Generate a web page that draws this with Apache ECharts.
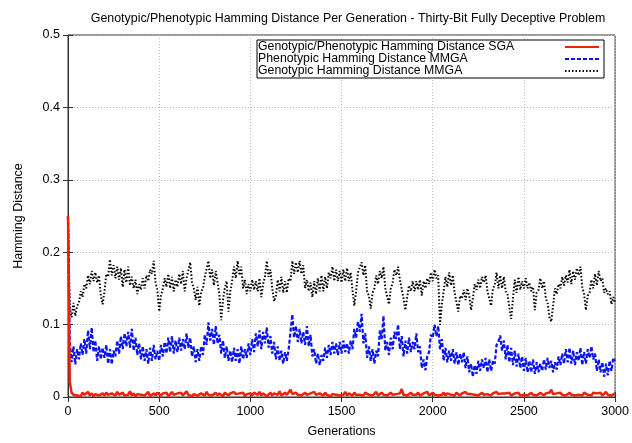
<!DOCTYPE html>
<html>
<head>
<meta charset="utf-8">
<title>Hamming Distance Per Generation</title>
<script src="https://cdn.jsdelivr.net/npm/echarts@6/dist/echarts.min.js"></script>
<style>
  html, body { margin: 0; padding: 0; background: #fff; }
  #main { width: 632px; height: 443px; }
</style>
</head>
<body>
<div id="main"></div>
<script>
// generations sampled every 10 steps (0 .. 3000)
var generations = []
for (var g = 0; g <= 3000; g += 10) generations.push(g)

var xTicks = [0, 500, 1000, 1500, 2000, 2500, 3000]
var yTicks = [0, 0.1, 0.2, 0.3, 0.4, 0.5]

// Genotypic/Phenotypic Hamming Distance SGA
var sgaDist = [
  0.250, 0.020, 0.006, 0.003, 0.005, 0.002, 0.004, 0.001, 0.006, 0.003,
  0.004, 0.007, 0.002, 0.005, 0.001, 0.004, 0.006, 0.002, 0.003, 0.005,
  0.002, 0.006, 0.003, 0.001, 0.005, 0.004, 0.002, 0.007, 0.003, 0.004,
  0.006, 0.002, 0.004, 0.003, 0.008, 0.002, 0.005, 0.001, 0.004, 0.006,
  0.003, 0.005, 0.002, 0.004, 0.007, 0.001, 0.003, 0.005, 0.002, 0.006,
  0.004, 0.002, 0.005, 0.003, 0.006, 0.001, 0.004, 0.007, 0.003, 0.002,
  0.005, 0.003, 0.006, 0.002, 0.004, 0.008, 0.003, 0.005, 0.001, 0.004,
  0.006, 0.002, 0.003, 0.005, 0.004, 0.002, 0.007, 0.003, 0.005, 0.002,
  0.004, 0.006, 0.002, 0.005, 0.003, 0.001, 0.006, 0.004, 0.002, 0.005,
  0.003, 0.007, 0.004, 0.002, 0.005, 0.003, 0.006, 0.001, 0.004, 0.003,
  0.005, 0.002, 0.006, 0.004, 0.003, 0.007, 0.002, 0.005, 0.004, 0.001,
  0.003, 0.006, 0.002, 0.005, 0.004, 0.003, 0.008, 0.002, 0.004, 0.006,
  0.003, 0.005, 0.010, 0.004, 0.002, 0.006, 0.003, 0.005, 0.002, 0.004,
  0.006, 0.003, 0.002, 0.005, 0.004, 0.007, 0.003, 0.002, 0.005, 0.004,
  0.002, 0.006, 0.003, 0.005, 0.001, 0.004, 0.006, 0.003, 0.005, 0.002,
  0.004, 0.003, 0.007, 0.002, 0.005, 0.004, 0.002, 0.006, 0.003, 0.005,
  0.003, 0.005, 0.002, 0.006, 0.004, 0.003, 0.005, 0.002, 0.004, 0.007,
  0.002, 0.004, 0.006, 0.003, 0.005, 0.002, 0.004, 0.006, 0.003, 0.005,
  0.004, 0.002, 0.005, 0.011, 0.003, 0.005, 0.002, 0.004, 0.006, 0.003,
  0.005, 0.003, 0.006, 0.002, 0.004, 0.005, 0.003, 0.007, 0.002, 0.004,
  0.006, 0.003, 0.005, 0.002, 0.004, 0.003, 0.006, 0.002, 0.005, 0.004,
  0.003, 0.005, 0.002, 0.006, 0.004, 0.002, 0.005, 0.003, 0.007, 0.004,
  0.002, 0.004, 0.006, 0.003, 0.005, 0.002, 0.004, 0.006, 0.003, 0.005,
  0.004, 0.006, 0.002, 0.005, 0.003, 0.007, 0.004, 0.002, 0.005, 0.003,
  0.005, 0.003, 0.006, 0.002, 0.004, 0.005, 0.003, 0.006, 0.002, 0.004,
  0.003, 0.005, 0.002, 0.004, 0.006, 0.003, 0.005, 0.002, 0.004, 0.006,
  0.004, 0.002, 0.005, 0.003, 0.006, 0.010, 0.004, 0.002, 0.005, 0.003,
  0.006, 0.003, 0.005, 0.002, 0.004, 0.006, 0.003, 0.005, 0.002, 0.004,
  0.003, 0.005, 0.002, 0.006, 0.004, 0.003, 0.005, 0.002, 0.006, 0.004,
  0.005, 0.003, 0.006, 0.002, 0.004, 0.007, 0.003, 0.005, 0.002, 0.004,
  0.005
]

// Phenotypic Hamming Distance MMGA
var mmgaPheno = [
  0.250, 0.075, 0.048, 0.070, 0.045, 0.066, 0.052, 0.074, 0.058, 0.080,
  0.060, 0.092, 0.066, 0.096, 0.062, 0.078, 0.050, 0.070, 0.052, 0.068,
  0.054, 0.072, 0.046, 0.066, 0.045, 0.064, 0.056, 0.078, 0.060, 0.084,
  0.066, 0.088, 0.070, 0.090, 0.068, 0.094, 0.064, 0.082, 0.058, 0.074,
  0.052, 0.070, 0.050, 0.066, 0.046, 0.068, 0.050, 0.072, 0.052, 0.064,
  0.050, 0.072, 0.056, 0.076, 0.060, 0.082, 0.062, 0.084, 0.060, 0.078,
  0.062, 0.082, 0.064, 0.080, 0.066, 0.088, 0.068, 0.082, 0.056, 0.070,
  0.048, 0.066, 0.050, 0.070, 0.058, 0.086, 0.072, 0.103, 0.078, 0.094,
  0.072, 0.098, 0.074, 0.086, 0.060, 0.078, 0.054, 0.070, 0.050, 0.064,
  0.048, 0.068, 0.050, 0.066, 0.046, 0.070, 0.052, 0.066, 0.054, 0.074,
  0.058, 0.080, 0.062, 0.088, 0.070, 0.092, 0.066, 0.090, 0.074, 0.096,
  0.068, 0.084, 0.060, 0.076, 0.052, 0.070, 0.050, 0.064, 0.046, 0.062,
  0.050, 0.066, 0.064, 0.114, 0.082, 0.098, 0.076, 0.094, 0.074, 0.090,
  0.072, 0.098, 0.070, 0.086, 0.056, 0.066, 0.046, 0.060, 0.044, 0.058,
  0.050, 0.068, 0.054, 0.072, 0.058, 0.076, 0.060, 0.074, 0.058, 0.076,
  0.060, 0.078, 0.062, 0.074, 0.060, 0.078, 0.066, 0.094, 0.082, 0.104,
  0.090, 0.115, 0.074, 0.088, 0.054, 0.070, 0.050, 0.066, 0.046, 0.064,
  0.056, 0.092, 0.080, 0.112, 0.064, 0.076, 0.058, 0.082, 0.066, 0.090,
  0.080, 0.100, 0.066, 0.084, 0.056, 0.078, 0.060, 0.082, 0.062, 0.076,
  0.066, 0.088, 0.062, 0.070, 0.040, 0.052, 0.037, 0.056, 0.062, 0.086,
  0.082, 0.100, 0.084, 0.098, 0.066, 0.080, 0.050, 0.068, 0.048, 0.064,
  0.050, 0.066, 0.046, 0.062, 0.044, 0.060, 0.048, 0.062, 0.040, 0.056,
  0.034, 0.046, 0.028, 0.044, 0.032, 0.050, 0.036, 0.052, 0.040, 0.054,
  0.034, 0.052, 0.036, 0.050, 0.046, 0.072, 0.076, 0.085, 0.064, 0.078,
  0.052, 0.072, 0.048, 0.068, 0.044, 0.064, 0.042, 0.060, 0.040, 0.056,
  0.036, 0.054, 0.034, 0.050, 0.034, 0.052, 0.032, 0.048, 0.034, 0.046,
  0.036, 0.052, 0.038, 0.054, 0.040, 0.050, 0.034, 0.048, 0.038, 0.056,
  0.044, 0.060, 0.046, 0.066, 0.048, 0.068, 0.046, 0.064, 0.044, 0.062,
  0.050, 0.068, 0.044, 0.062, 0.046, 0.066, 0.054, 0.070, 0.052, 0.060,
  0.036, 0.052, 0.034, 0.048, 0.028, 0.046, 0.030, 0.050, 0.036, 0.054,
  0.050
]

// Genotypic Hamming Distance MMGA
var mmgaGeno = [
  0.250, 0.122, 0.110, 0.130, 0.112, 0.126, 0.130, 0.146, 0.138, 0.156,
  0.150, 0.168, 0.156, 0.174, 0.160, 0.172, 0.158, 0.168, 0.140, 0.128,
  0.146, 0.170, 0.166, 0.190, 0.168, 0.182, 0.164, 0.180, 0.162, 0.178,
  0.152, 0.176, 0.158, 0.180, 0.154, 0.166, 0.150, 0.162, 0.142, 0.156,
  0.148, 0.164, 0.150, 0.168, 0.160, 0.176, 0.170, 0.188, 0.158, 0.148,
  0.118, 0.140, 0.150, 0.164, 0.152, 0.170, 0.150, 0.166, 0.146, 0.162,
  0.152, 0.170, 0.156, 0.174, 0.146, 0.164, 0.166, 0.186, 0.158, 0.150,
  0.134, 0.152, 0.126, 0.146, 0.150, 0.166, 0.164, 0.188, 0.164, 0.176,
  0.154, 0.174, 0.158, 0.142, 0.106, 0.134, 0.150, 0.160, 0.118, 0.146,
  0.160, 0.180, 0.164, 0.188, 0.168, 0.180, 0.150, 0.162, 0.142, 0.156,
  0.146, 0.162, 0.148, 0.160, 0.146, 0.164, 0.138, 0.156, 0.166, 0.188,
  0.166, 0.176, 0.150, 0.132, 0.140, 0.162, 0.146, 0.166, 0.144, 0.160,
  0.144, 0.164, 0.160, 0.188, 0.170, 0.186, 0.172, 0.188, 0.170, 0.182,
  0.150, 0.162, 0.146, 0.158, 0.138, 0.160, 0.142, 0.164, 0.146, 0.168,
  0.146, 0.166, 0.150, 0.172, 0.164, 0.180, 0.160, 0.176, 0.160, 0.174,
  0.158, 0.176, 0.160, 0.178, 0.160, 0.172, 0.148, 0.126, 0.146, 0.172,
  0.170, 0.186, 0.168, 0.182, 0.146, 0.140, 0.122, 0.144, 0.150, 0.168,
  0.156, 0.174, 0.164, 0.180, 0.150, 0.148, 0.128, 0.150, 0.158, 0.176,
  0.168, 0.180, 0.162, 0.160, 0.136, 0.120, 0.138, 0.154, 0.146, 0.160,
  0.146, 0.160, 0.148, 0.162, 0.140, 0.160, 0.150, 0.164, 0.156, 0.172,
  0.160, 0.176, 0.164, 0.168, 0.100, 0.128, 0.146, 0.166, 0.152, 0.172,
  0.154, 0.168, 0.144, 0.142, 0.118, 0.140, 0.136, 0.148, 0.134, 0.150,
  0.140, 0.120, 0.136, 0.156, 0.148, 0.162, 0.150, 0.166, 0.158, 0.168,
  0.146, 0.148, 0.126, 0.150, 0.154, 0.172, 0.150, 0.168, 0.150, 0.166,
  0.146, 0.142, 0.124, 0.108, 0.136, 0.162, 0.144, 0.166, 0.148, 0.160,
  0.150, 0.164, 0.150, 0.158, 0.146, 0.152, 0.120, 0.144, 0.148, 0.164,
  0.150, 0.160, 0.136, 0.130, 0.110, 0.104, 0.126, 0.150, 0.142, 0.156,
  0.150, 0.166, 0.154, 0.168, 0.158, 0.176, 0.156, 0.174, 0.162, 0.178,
  0.168, 0.180, 0.152, 0.142, 0.120, 0.140, 0.144, 0.162, 0.150, 0.170,
  0.154, 0.174, 0.160, 0.164, 0.144, 0.150, 0.142, 0.146, 0.128, 0.138,
  0.130
]

function pairs(values) {
  return values.map(function (v, i) { return [generations[i], v] })
}

var FONT = 'Liberation Sans, Arial, sans-serif'
var AXIS_COLOR = '#333'
var chart = echarts.init(document.getElementById('main'))

var mirrorAxis = {
  axisLabel: { show: false },
  axisTick: { inside: true, length: 5, lineStyle: { color: AXIS_COLOR } },
  axisLine: { lineStyle: { color: AXIS_COLOR } },
  splitLine: { show: false }
}

var option = {
  animation: false,
  backgroundColor: '#fff',
  title: {
    text: 'Genotypic/Phenotypic Hamming Distance Per Generation - Thirty-Bit Fully Deceptive Problem',
    left: 343,
    top: 8,
    textAlign: 'center',
    textStyle: { fontFamily: FONT, fontSize: 12.4, fontWeight: 'normal', color: '#000' }
  },
  legend: {
    orient: 'vertical',
    right: 28,
    top: 40,
    align: 'right',
    itemGap: 0,
    itemWidth: 34,
    itemHeight: 11,
    padding: [1, 4, 1, 1],
    borderColor: '#000',
    borderWidth: 1,
    backgroundColor: '#fff',
    itemStyle: { opacity: 0 },
    formatter: '{t|{name}}',
    textStyle: {
      fontFamily: FONT, fontSize: 12.3, color: '#000',
      rich: { t: { fontFamily: FONT, fontSize: 12.3, color: '#000', width: 302, align: 'left' } }
    },
    data: ['Genotypic/Phenotypic Hamming Distance SGA', 'Phenotypic Hamming Distance MMGA', 'Genotypic Hamming Distance MMGA']
  },
  grid: { left: 68, right: 14, top: 35, bottom: 39, show: true, borderColor: AXIS_COLOR, borderWidth: 1 },
  xAxis: [
    {
      type: 'value',
      min: xTicks[0],
      max: xTicks[xTicks.length - 1],
      interval: 500,
      name: 'Generations',
      nameLocation: 'middle',
      nameGap: 28,
      nameTextStyle: { fontFamily: FONT, fontSize: 12.5, color: '#000' },
      axisLabel: { fontFamily: FONT, fontSize: 12.5, color: '#000', margin: 8, formatter: function (v) { return String(v) } },
      axisTick: { inside: true, length: 5, lineStyle: { color: AXIS_COLOR } },
      axisLine: { lineStyle: { color: AXIS_COLOR } },
      splitLine: { show: true, lineStyle: { color: '#bbb', type: [1, 2] } }
    },
    Object.assign({ type: 'value', position: 'top', min: 0, max: 3000, interval: 500 }, mirrorAxis)
  ],
  yAxis: [
    {
      type: 'value',
      min: yTicks[0],
      max: yTicks[yTicks.length - 1],
      interval: 0.1,
      name: 'Hamming Distance',
      nameLocation: 'middle',
      nameGap: 43,
      nameTextStyle: { fontFamily: FONT, fontSize: 12.5, color: '#000' },
      axisLabel: { fontFamily: FONT, fontSize: 12.5, color: '#000', margin: 8 },
      axisTick: { inside: true, length: 5, lineStyle: { color: AXIS_COLOR } },
      axisLine: { lineStyle: { color: AXIS_COLOR } },
      splitLine: { show: true, lineStyle: { color: '#bbb', type: [1, 2] } }
    },
    Object.assign({ type: 'value', position: 'right', min: 0, max: 0.5, interval: 0.1 }, mirrorAxis)
  ],
  series: [
    {
      name: 'Genotypic/Phenotypic Hamming Distance SGA',
      type: 'line',
      showSymbol: false,
      z: 3,
      lineStyle: { color: '#f0200a', width: 2.5 },
      itemStyle: { color: '#f0200a' },
      data: pairs(sgaDist)
    },
    {
      name: 'Phenotypic Hamming Distance MMGA',
      type: 'line',
      showSymbol: false,
      z: 2,
      lineStyle: { color: '#0a14f0', width: 2.2, type: [4, 2] },
      itemStyle: { color: '#0a14f0' },
      data: pairs(mmgaPheno)
    },
    {
      name: 'Genotypic Hamming Distance MMGA',
      type: 'line',
      showSymbol: false,
      z: 2,
      lineStyle: { color: '#000', width: 2, type: [1.5, 2] },
      itemStyle: { color: '#000' },
      data: pairs(mmgaGeno)
    }
  ]
}
option && chart.setOption(option)
</script>
</body>
</html>
